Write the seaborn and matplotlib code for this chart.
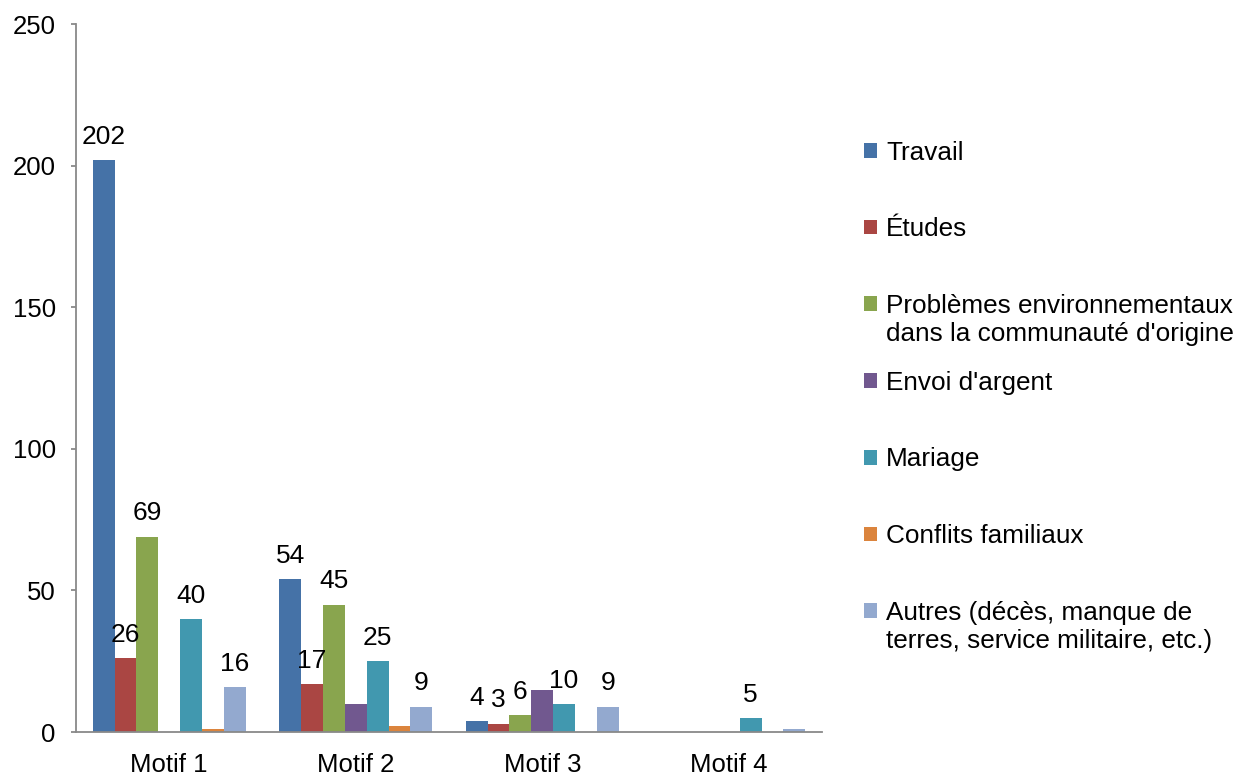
import numpy as np
import pandas as pd
import matplotlib
matplotlib.use("Agg")
import matplotlib.pyplot as plt
from matplotlib.patches import Patch
from matplotlib.ticker import FixedLocator, MultipleLocator
import seaborn as sns

# --- data -----------------------------------------------------------------
motifs = ["Motif 1", "Motif 2", "Motif 3", "Motif 4"]

travail = [202, 54, 4, 0]
etudes = [26, 17, 3, 0]
environnement = [69, 45, 6, 0]
envoi_argent = [0, 10, 15, 0]
mariage = [40, 25, 10, 5]
conflits = [1, 2, 0, 0]
autres = [16, 9, 9, 1]

raisons = [
    "Travail",
    "Études",
    "Problèmes environnementaux\ndans la communauté d'origine",
    "Envoi d'argent",
    "Mariage",
    "Conflits familiaux",
    "Autres (décès, manque de\nterres, service militaire, etc.)",
]
valeurs = [travail, etudes, environnement, envoi_argent, mariage, conflits, autres]

# which bars carry a value label
etiquetes = [
    [True, True, True, False],
    [True, True, True, False],
    [True, True, True, False],
    [False, False, False, False],
    [True, True, True, True],
    [False, False, False, False],
    [True, True, True, False],
]

couleurs = ["#4572A7", "#AA4643", "#89A54E", "#71588F", "#4198AF", "#DB843D", "#93A9CF"]

# long-format table for seaborn
df = pd.DataFrame(
    [(m, r, v) for r, serie in zip(raisons, valeurs) for m, v in zip(motifs, serie)],
    columns=["motif", "raison", "nombre"],
)

# --- figure ---------------------------------------------------------------
sns.set_style("white")
plt.rcParams["font.family"] = ["Liberation Sans", "DejaVu Sans"]
plt.rcParams["text.color"] = "black"

W, H = 1255, 776
fig = plt.figure(figsize=(W / 100, H / 100), dpi=100)
ax = fig.add_axes([76 / W, 44 / H, 746 / W, 708 / H])

sns.barplot(
    data=df, x="motif", y="nombre", hue="raison",
    order=motifs, hue_order=raisons,
    palette=dict(zip(raisons, couleurs)),
    width=0.82, saturation=1, linewidth=0, legend=False, ax=ax,
)

# value labels above the bars
for cont, serie, montrer in zip(ax.containers, valeurs, etiquetes):
    labels = [str(v) if ok else "" for v, ok in zip(serie, montrer)]
    ax.bar_label(cont, labels=labels, padding=8, fontsize=19, color="black")

# axes styling
gris = "#898989"
ax.set_xlim(-0.5, len(motifs) - 0.5)
ax.set_ylim(0, 250)
ax.yaxis.set_major_locator(MultipleLocator(50))
ax.set_xlabel("")
ax.set_ylabel("")
for s in ("top", "right"):
    ax.spines[s].set_visible(False)
for s in ("left", "bottom"):
    ax.spines[s].set_color(gris)
    ax.spines[s].set_linewidth(1.3)

ax.xaxis.set_minor_locator(FixedLocator(np.arange(-0.5, len(motifs), 1.0)))
ax.tick_params(axis="x", which="major", length=0, pad=15, labelsize=18.5, labelcolor="black")
ax.tick_params(axis="x", which="minor", length=5, width=1.3, color=gris, direction="out")
ax.tick_params(axis="y", which="major", length=3.6, width=1.3, color=gris, direction="out",
               pad=11, labelsize=18.5, labelcolor="black", left=True)

# legend: first lines in the legend, continuation lines placed underneath
taille_legende = 18.8
premieres = [r.split("\n")[0] for r in raisons]
handles = [Patch(facecolor=c, edgecolor="none") for c in couleurs]
leg = fig.legend(
    handles, premieres, loc="upper left",
    bbox_to_anchor=(864 / W, 1 - 140.5 / H), bbox_transform=fig.transFigure,
    frameon=False, fontsize=taille_legende, labelcolor="black",
    handlelength=0.5, handleheight=0.5,
    handletextpad=0.35, labelspacing=2.02, borderpad=0, borderaxespad=0,
)

fig.canvas.draw()
for txt, raison in zip(leg.get_texts(), raisons):
    lignes = raison.split("\n")
    if len(lignes) > 1:
        x_px, y_px = txt.get_transform().transform(txt.get_position())
        for k, ligne in enumerate(lignes[1:], start=1):
            fig.text(x_px / W, (y_px - 28.5 * k) / H, ligne, fontsize=taille_legende,
                     ha="left", va="baseline", color="black")

fig.savefig("out.png", dpi=100)
